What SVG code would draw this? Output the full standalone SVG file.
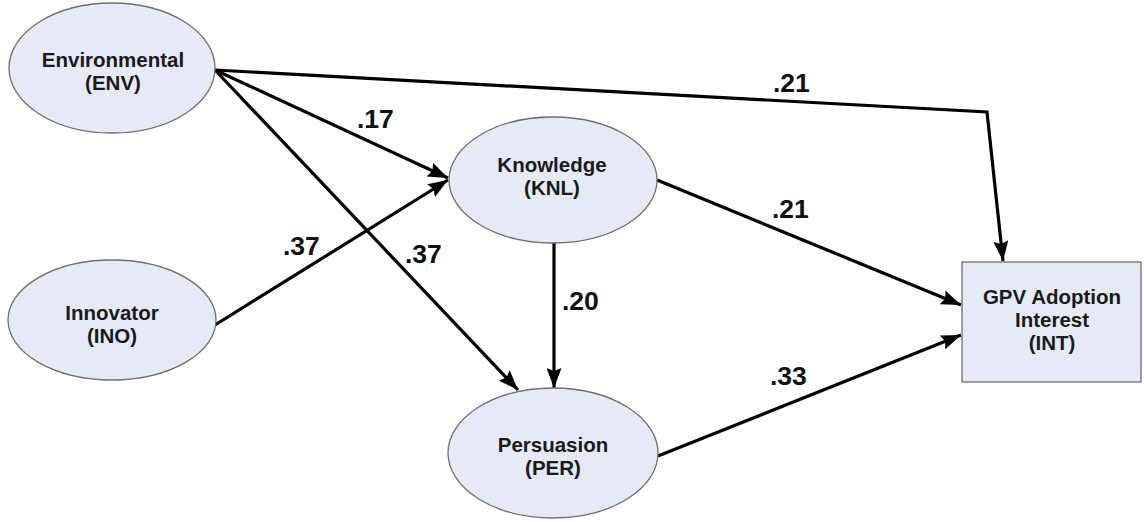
<svg xmlns="http://www.w3.org/2000/svg" width="1144" height="522" viewBox="0 0 1144 522">
<defs>
<marker id="arr" viewBox="0 0 20 15" refX="20" refY="7.5" markerWidth="20" markerHeight="15" markerUnits="userSpaceOnUse" orient="auto">
<path d="M0,0 L20,7.5 L0,15 L3,7.5 Z" fill="#000"/>
</marker>
</defs>
<style>
.node{fill:#e6eaf6;stroke:#6f6f6f;stroke-width:1.3}
.lbl{font-family:"Liberation Sans",Arial,sans-serif;font-weight:bold;font-size:20.5px;fill:#1a1a1a;text-anchor:middle}
.w{font-family:"Liberation Sans",Arial,sans-serif;font-weight:bold;font-size:26.5px;fill:#111}
.c{fill:none;stroke:#000;stroke-width:3.2;marker-end:url(#arr)}
</style>
<rect width="1144" height="522" fill="#fff"/>
<g id="connectors">
<polyline class="c" points="215,70 987,112 1003,261"/>
<line class="c" x1="215" y1="70" x2="448" y2="178"/>
<line class="c" x1="215" y1="70" x2="518" y2="390"/>
<line class="c" x1="215" y1="325" x2="448" y2="180"/>
<line class="c" x1="554" y1="243" x2="554" y2="388"/>
<line class="c" x1="657" y1="180" x2="961" y2="305"/>
<line class="c" x1="658" y1="456" x2="961" y2="335"/>
</g>
<g id="weights">
<text class="w" x="773" y="92">.21</text>
<text class="w" x="357" y="128">.17</text>
<text class="w" x="772" y="218">.21</text>
<text class="w" x="283" y="255">.37</text>
<text class="w" x="405" y="263">.37</text>
<text class="w" x="562" y="310">.20</text>
<text class="w" x="770" y="385">.33</text>
</g>
<g id="ENV">
<ellipse class="node" cx="112" cy="68" rx="103" ry="65"/>
<text class="lbl" x="113" y="67">Environmental</text>
<text class="lbl" x="113" y="90">(ENV)</text>
</g>
<g id="KNL">
<ellipse class="node" cx="553" cy="180" rx="104" ry="63"/>
<text class="lbl" x="552" y="172">Knowledge</text>
<text class="lbl" x="552" y="195">(KNL)</text>
</g>
<g id="INO">
<ellipse class="node" cx="112" cy="320" rx="104" ry="60"/>
<text class="lbl" x="112" y="320">Innovator</text>
<text class="lbl" x="112" y="343">(INO)</text>
</g>
<g id="PER">
<ellipse class="node" cx="553" cy="453" rx="105" ry="65"/>
<text class="lbl" x="553" y="452">Persuasion</text>
<text class="lbl" x="553" y="475">(PER)</text>
</g>
<g id="INT">
<rect class="node" x="962" y="262" width="179" height="120"/>
<text class="lbl" x="1052" y="304">GPV Adoption</text>
<text class="lbl" x="1052" y="327">Interest</text>
<text class="lbl" x="1052" y="350">(INT)</text>
</g>
</svg>
